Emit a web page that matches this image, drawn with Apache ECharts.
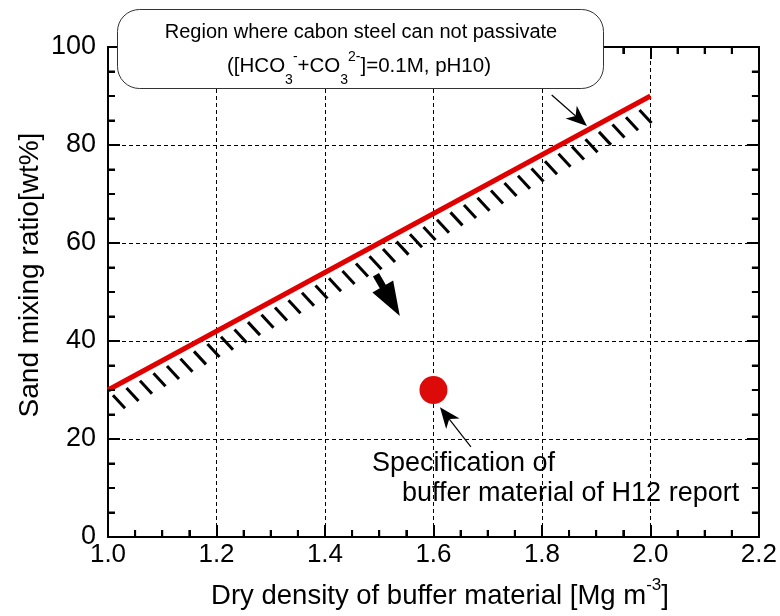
<!DOCTYPE html>
<html><head><meta charset="utf-8">
<script src="https://cdn.jsdelivr.net/npm/echarts@6/dist/echarts.min.js"></script>
<style>html,body{margin:0;padding:0;background:#fff}#c{width:780px;height:616px}</style>
</head><body><div id="c"></div>
<script>
// ---- data ----
const xMin = 1.0, xMax = 2.2, xStep = 0.2, xMinorStep = 0.05;
const yMin = 0, yMax = 100, yStep = 20, yMinorStep = 5;
const boundaryLine = [[1.0, 30], [2.0, 90]];           // passivation limit line
const h12Spec = [[1.6, 30]];                            // H12 reference specification
const bigArrow = [[1.494, 53.5, 1.538, 45.1]];          // x1,y1 -> x2,y2 (tip)
const thinArrows = [[1.818, 90.2, 1.883, 83.9], [1.669, 18.4, 1.612, 26.5]];
const boxLine1 = 'Region where cabon steel can not passivate';
const boxLine2 = [['([HCO', 'n'], ['3', 'sub'], ['-', 'sup'], ['+CO', 'n'], ['3', 'sub'], ['2-', 'sup'], [']=0.1M, pH10)', 'n']];
const xTitle = [['Dry density of buffer material [Mg m', 'n'], ['-3', 'sup'], [']', 'n']];
const yTitle = 'Sand mixing ratio[wt%]';
const specLabel = ['Specification of', 'buffer material of H12 report'];

const FF = '"Liberation Sans", Arial, Helvetica, sans-serif';
const cvs = document.createElement('canvas').getContext('2d');
function measure(t, size) { cvs.font = size + 'px ' + FF; return cvs.measureText(t).width; }

function runs(parts, cx, cy, size, subSize, subDy, supDy) {
  const sz = p => p[1] === 'n' ? size : subSize;
  let total = 0; parts.forEach(p => total += measure(p[0], sz(p)));
  let x = cx - total / 2;
  const out = [];
  parts.forEach(p => {
    const s = sz(p);
    const dy = p[1] === 'sub' ? subDy : (p[1] === 'sup' ? supDy : 0);
    out.push({ type: 'text', z: 101, style: { text: p[0], x: x, y: cy + dy, fill: '#000',
      fontSize: s, fontFamily: FF, textAlign: 'left', textVerticalAlign: 'middle', align: 'left', verticalAlign: 'middle' } });
    x += measure(p[0], s);
  });
  return out;
}

const chart = echarts.init(document.getElementById('c'), null, { renderer: 'canvas' });

function axisBase() {
  return {
    type: 'value',
    axisLine: { show: true, onZero: false, lineStyle: { color: '#000', width: 2 } },
    axisTick: { show: true, inside: true, length: 12, lineStyle: { color: '#000', width: 2 } },
    minorTick: { show: true, splitNumber: 4, length: 7, lineStyle: { color: '#000', width: 2 } }
  };
}

const gridL = 108, gridR = 21, gridT = 47, gridB = 79;

function arrowShape(api, v, headLen, notch) {
  const s = api.coord([v[0], v[1]]), t = api.coord([v[2], v[3]]);
  const dx = t[0] - s[0], dy = t[1] - s[1], L = Math.hypot(dx, dy);
  const ux = dx / L, uy = dy / L, nx = -uy, ny = ux;
  const bx = t[0] - ux * headLen, by = t[1] - uy * headLen;
  const mx = t[0] - ux * headLen * notch, my = t[1] - uy * headLen * notch;
  return { s, t, bx, by, mx, my, nx, ny };
}

const option = {
  animation: false,
  backgroundColor: '#fff',
  grid: { left: gridL, right: gridR, top: gridT, bottom: gridB },
  xAxis: [
    Object.assign(axisBase(), {
      position: 'bottom', min: xMin, max: xMax, interval: xStep,
      axisLabel: { show: true, margin: 5, fontSize: 26, color: '#000', fontFamily: FF,
        showMinLabel: true, showMaxLabel: true, formatter: v => v.toFixed(1) },
      splitLine: { show: true, lineStyle: { color: '#000', width: 1, type: [4, 3] } }
    }),
    Object.assign(axisBase(), {
      position: 'top', min: xMin, max: xMax, interval: xStep,
      axisLabel: { show: false }, splitLine: { show: false }
    })
  ],
  yAxis: [
    Object.assign(axisBase(), {
      position: 'left', min: yMin, max: yMax, interval: yStep,
      axisLabel: { show: true, margin: 12, fontSize: 27, color: '#000', fontFamily: FF,
        showMinLabel: true, showMaxLabel: true },
      splitLine: { show: true, lineStyle: { color: '#000', width: 1, type: [4, 3] } }
    }),
    Object.assign(axisBase(), {
      position: 'right', min: yMin, max: yMax, interval: yStep,
      axisLabel: { show: false }, splitLine: { show: false }
    })
  ],
  series: [
    {
      type: 'custom', name: 'minorTicks', xAxisIndex: 0, yAxisIndex: 0, z: 7,
      data: [[xMin, yMin]],
      renderItem: function (params, api) {
        const children = [];
        const nx = Math.round((xMax - xMin) / xMinorStep), px = Math.round(xStep / xMinorStep);
        for (let i = 0; i <= nx; i++) {
          if (i % px === 0) continue;
          const v = xMin + i * xMinorStep;
          const b = api.coord([v, yMin]), t = api.coord([v, yMax]);
          children.push({ type: 'line', shape: { x1: b[0], y1: b[1], x2: b[0], y2: b[1] - 7 }, style: { stroke: '#000', lineWidth: 2 } });
          children.push({ type: 'line', shape: { x1: t[0], y1: t[1], x2: t[0], y2: t[1] + 7 }, style: { stroke: '#000', lineWidth: 2 } });
        }
        const ny = Math.round((yMax - yMin) / yMinorStep), py = Math.round(yStep / yMinorStep);
        for (let i = 0; i <= ny; i++) {
          if (i % py === 0) continue;
          const v = yMin + i * yMinorStep;
          const l = api.coord([xMin, v]), r = api.coord([xMax, v]);
          children.push({ type: 'line', shape: { x1: l[0], y1: l[1], x2: l[0] + 7, y2: l[1] }, style: { stroke: '#000', lineWidth: 2 } });
          children.push({ type: 'line', shape: { x1: r[0], y1: r[1], x2: r[0] - 7, y2: r[1] }, style: { stroke: '#000', lineWidth: 2 } });
        }
        return { type: 'group', children };
      }
    },
    {
      type: 'custom', name: 'hatch', xAxisIndex: 0, yAxisIndex: 0, z: 3,
      data: [[boundaryLine[0][0], boundaryLine[0][1], boundaryLine[1][0], boundaryLine[1][1]]],
      renderItem: function (params, api) {
        const p0 = api.coord([api.value(0), api.value(1)]);
        const p1 = api.coord([api.value(2), api.value(3)]);
        const children = [];
        const slope = (p1[1] - p0[1]) / (p1[0] - p0[0]);
        for (let x = p0[0] + 5; x <= p1[0] - 8; x += 13.5) {
          const y = p0[1] + slope * (x - p0[0]) + 8;
          children.push({ type: 'line', shape: { x1: x, y1: y, x2: x + 12, y2: y + 13 },
            style: { stroke: '#000', lineWidth: 3 } });
        }
        return { type: 'group', children };
      }
    },
    {
      type: 'line', name: 'limit', data: boundaryLine, showSymbol: false, symbol: 'none', z: 4,
      lineStyle: { color: '#e00000', width: 5 }
    },
    {
      type: 'scatter', name: 'H12', data: h12Spec, symbolSize: 28, z: 5,
      itemStyle: { color: '#dd0a0a', opacity: 1 }
    },
    {
      type: 'custom', name: 'bigArrow', z: 6, data: bigArrow,
      renderItem: function (params, api) {
        const v = [api.value(0), api.value(1), api.value(2), api.value(3)];
        const a = arrowShape(api, v, 34, 1);
        return { type: 'group', children: [
          { type: 'line', shape: { x1: a.s[0], y1: a.s[1], x2: a.bx + (a.t[0]-a.bx)*0.1, y2: a.by + (a.t[1]-a.by)*0.1 },
            style: { stroke: '#000', lineWidth: 7 } },
          { type: 'polygon', shape: { points: [a.t, [a.bx + a.nx * 12, a.by + a.ny * 12], [a.bx - a.nx * 12, a.by - a.ny * 12]] },
            style: { fill: '#000' } }
        ] };
      }
    },
    {
      type: 'custom', name: 'thinArrows', z: 6, data: thinArrows,
      renderItem: function (params, api) {
        const v = [api.value(0), api.value(1), api.value(2), api.value(3)];
        const a = arrowShape(api, v, 21, 0.72);
        return { type: 'group', children: [
          { type: 'line', shape: { x1: a.s[0], y1: a.s[1], x2: a.mx, y2: a.my },
            style: { stroke: '#000', lineWidth: 1.2 } },
          { type: 'polygon', shape: { points: [a.t, [a.bx + a.nx * 8.5, a.by + a.ny * 8.5], [a.mx, a.my], [a.bx - a.nx * 8.5, a.by - a.ny * 8.5]] },
            style: { fill: '#000' } }
        ] };
      }
    }
  ],
  graphic: [].concat(
    [{ type: 'rect', z: 100, shape: { x: 117.5, y: 9.5, width: 486, height: 79, r: 22 },
       style: { fill: '#fff', stroke: '#333', lineWidth: 1 } },
     { type: 'text', z: 101, style: { text: boxLine1, x: 361, y: 32, fill: '#000', fontSize: 20, fontFamily: FF,
       textAlign: 'center', textVerticalAlign: 'middle', align: 'center', verticalAlign: 'middle' } }],
    runs(boxLine2, 359, 66, 20.5, 14, 14, -9),
    runs(xTitle, 440, 596, 27.5, 17, 0, -11),
    [{ type: 'text', z: 101, x: 30, y: 275, rotation: Math.PI / 2,
       style: { text: yTitle, x: 0, y: 0, fill: '#000', fontSize: 28, fontFamily: FF,
       textAlign: 'center', textVerticalAlign: 'middle', align: 'center', verticalAlign: 'middle' } },
     { type: 'text', z: 101, style: { text: specLabel[0], x: 372, y: 464, fill: '#000', fontSize: 27, fontFamily: FF,
       textAlign: 'left', textVerticalAlign: 'middle', align: 'left', verticalAlign: 'middle' } },
     { type: 'text', z: 101, style: { text: specLabel[1], x: 402, y: 494, fill: '#000', fontSize: 27, fontFamily: FF,
       textAlign: 'left', textVerticalAlign: 'middle', align: 'left', verticalAlign: 'middle' } }]
  )
};
chart.setOption(option);
</script>
</body></html>
